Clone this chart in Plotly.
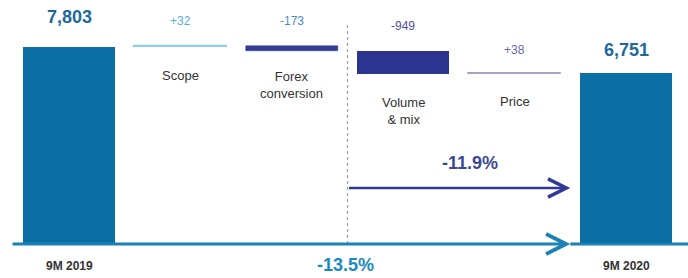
import plotly.graph_objects as go

categories = ["9M 2019", "Scope", "Forex<br>conversion", "Volume<br>& mix", "Price", "9M 2020"]
start_value = 7803
changes = [32, -173, -949, 38]
end_value = 6751
value_labels = ["7,803", "+32", "-173", "-949", "+38", "6,751"]
pct_partial = "-11.9%"
pct_total = "-13.5%"

# pixel mapping helpers (layout only)
W, H = 688, 278
px_per_unit = 196 / start_value
y0_px = 243
def ydata(px):
    return (y0_px - px) / px_per_unit
step = 111.4
def xdata(px):
    return (px - 69) / step

bar_colors = ["#0b6ea5", "#8fcfdf", "#343a96", "#2b3590", "#a4a4c4", "#0b6ea5"]
label_colors = ["#1c6a9a", "#5aaedc", "#4a8cc8", "#50529e", "#6a6aa8", "#1c6a9a"]

# waterfall bases
bases, heights = [0], [start_value]
level = start_value
for c in changes:
    if c >= 0:
        bases.append(level); heights.append(c)
    else:
        bases.append(level + c); heights.append(-c)
    level += c
bases.append(0); heights.append(end_value)

xs = list(range(len(categories)))
fig = go.Figure()
fig.add_trace(go.Bar(
    x=xs, y=heights, base=bases, width=0.83,
    marker=dict(color=bar_colors, line=dict(color=bar_colors, width=[0, 1.2, 0.5, 0, 1, 0])),
    hoverinfo="skip", showlegend=False,
))

FONT = "Liberation Sans, Arial"
ann = []
val_px = [17, 21, 21, 26, 50, 50]
for i, t in enumerate(value_labels):
    big = i in (0, 5)
    ann.append(dict(x=i, y=ydata(val_px[i]), text=f"<b>{t}</b>" if big else t,
                    showarrow=False, xanchor="center", yanchor="middle",
                    font=dict(size=18 if big else 12, color=label_colors[i], family=FONT)))
cat_px = [266, 75, 85, 111, 101, 266]
for i, c in enumerate(categories):
    big = i in (0, 5)
    ann.append(dict(x=i, y=ydata(cat_px[i]), text=f"<b>{c}</b>" if big else c,
                    showarrow=False, xanchor="center", yanchor="middle",
                    font=dict(size=12 if big else 13, color="#333333", family=FONT)))
ann.append(dict(x=4.5, y=ydata(188), ax=2.5, ay=ydata(188), xref="x", yref="y",
                axref="x", ayref="y", text="", showarrow=True, arrowhead=5,
                arrowsize=1.5, arrowwidth=2.4, arrowcolor="#2e3a94"))
ann.append(dict(x=xdata(470), y=ydata(163), text=f"<b>{pct_partial}</b>", showarrow=False,
                font=dict(size=18, color="#3a4896", family=FONT)))
ann.append(dict(x=4.5, y=ydata(244), ax=-0.52, ay=ydata(244), xref="x", yref="y",
                axref="x", ayref="y", text="", showarrow=True, arrowhead=5,
                arrowsize=1.3, arrowwidth=3, arrowcolor="#1a82b5"))
ann.append(dict(x=xdata(345), y=ydata(265), text=f"<b>{pct_total}</b>", showarrow=False,
                font=dict(size=18, color="#1a8abf", family=FONT)))

shapes = [
    dict(type="line", x0=2.5, x1=2.5, y0=ydata(244), y1=ydata(25), xref="x", yref="y",
         line=dict(color="#9a9aa8", width=1.2, dash="dot"), layer="below"),
    dict(type="line", x0=4.5, x1=xdata(688), y0=ydata(244), y1=ydata(244), xref="x", yref="y",
         line=dict(color="#1a82b5", width=3), layer="below"),
]

fig.update_layout(
    width=W, height=H, margin=dict(l=0, r=0, t=0, b=0),
    paper_bgcolor="white", plot_bgcolor="white",
    xaxis=dict(range=[xdata(0), xdata(W)], visible=False, fixedrange=True),
    yaxis=dict(range=[ydata(H), ydata(0)], visible=False, fixedrange=True),
    annotations=ann, shapes=shapes, bargap=0,
)
fig.write_html("out.html", config={"displayModeBar": False},
               post_script="document.body.style.margin='0';document.body.style.overflow='hidden';")
